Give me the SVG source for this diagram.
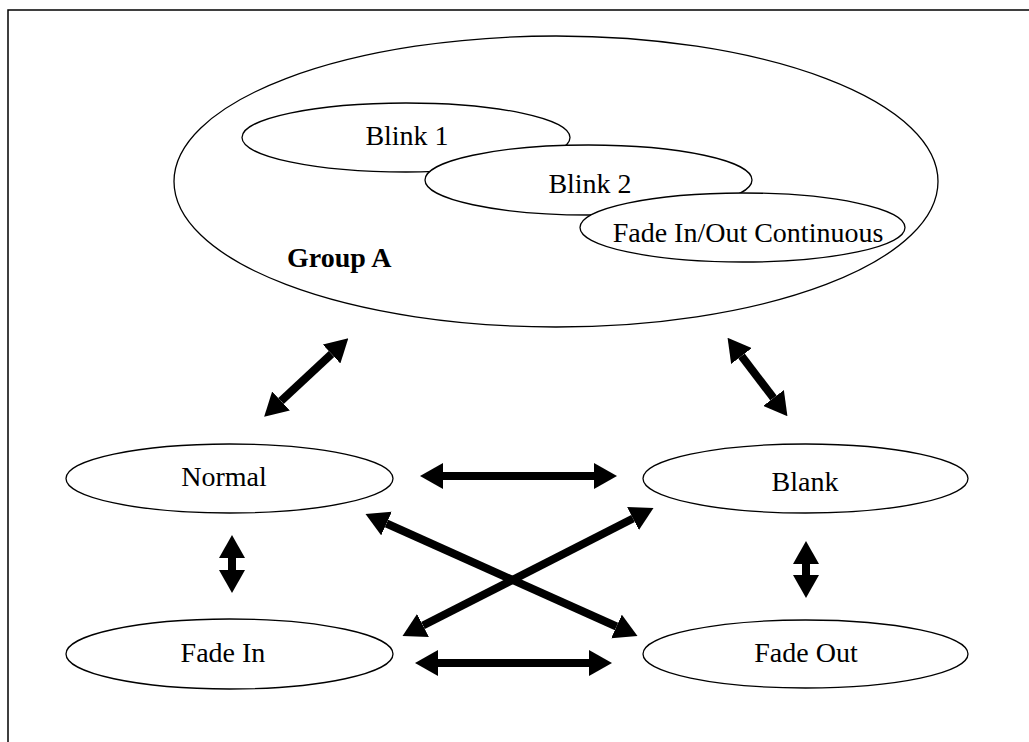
<svg xmlns="http://www.w3.org/2000/svg" width="1029" height="742" viewBox="0 0 1029 742">
<defs>
<style>
.ell{fill:#fff;stroke:#000;stroke-width:1.3}
.lbl{font-family:"Liberation Serif","Times New Roman",serif;font-size:28px;fill:#000;text-anchor:middle}
.bold{font-weight:bold;text-anchor:start}
.arr{stroke:#000;stroke-width:8;fill:none;marker-start:url(#ah);marker-end:url(#ah)}
</style>
<marker id="ah" viewBox="0 0 23 26" refX="0" refY="13" markerWidth="23" markerHeight="26" markerUnits="userSpaceOnUse" orient="auto-start-reverse">
<path d="M0,0 L23,13 L0,26 z" fill="#000"/>
</marker>
</defs>
<rect width="1029" height="742" fill="#fff"/>
<g id="frame">
<path d="M8,742 L8,10 L1029,10" fill="none" stroke="#000" stroke-width="1.5"/>
</g>
<g id="groupA">
<ellipse class="ell" cx="556" cy="181.5" rx="382" ry="145.5"/>
<text class="lbl bold" x="287" y="267">Group A</text>
</g>
<g id="blink1">
<ellipse class="ell" cx="406" cy="137.5" rx="164" ry="34.5"/>
<text class="lbl" x="407" y="145">Blink 1</text>
</g>
<g id="blink2">
<ellipse class="ell" cx="588.5" cy="180" rx="163.5" ry="35"/>
<text class="lbl" x="590" y="193">Blink 2</text>
</g>
<g id="fadeContinuous">
<ellipse class="ell" cx="742.5" cy="227.5" rx="162.5" ry="34.5"/>
<text class="lbl" x="748" y="242">Fade In/Out Continuous</text>
</g>
<g id="normal">
<ellipse class="ell" cx="229.5" cy="478.5" rx="163.5" ry="34.5"/>
<text class="lbl" x="224" y="486">Normal</text>
</g>
<g id="blank">
<ellipse class="ell" cx="805.5" cy="478.5" rx="162.5" ry="34.5"/>
<text class="lbl" x="805" y="491">Blank</text>
</g>
<g id="fadeIn">
<ellipse class="ell" cx="229.5" cy="654" rx="163.5" ry="35"/>
<text class="lbl" x="223" y="662">Fade In</text>
</g>
<g id="fadeOut">
<ellipse class="ell" cx="805.5" cy="654" rx="162.5" ry="34"/>
<text class="lbl" x="806" y="662">Fade Out</text>
</g>
<g id="connectors">
<line class="arr" x1="443" y1="476" x2="594" y2="476"/>
<line class="arr" x1="438" y1="663" x2="589" y2="663"/>
<line class="arr" x1="232" y1="558" x2="232" y2="570"/>
<line class="arr" x1="806" y1="564" x2="806" y2="575"/>
<line class="arr" x1="331.5" y1="354" x2="281" y2="401"/>
<line class="arr" x1="741.5" y1="356" x2="773.5" y2="398"/>
<line class="arr" x1="386.5" y1="523.5" x2="616.5" y2="626.5"/>
<line class="arr" x1="423" y1="625.5" x2="633" y2="518.5"/>
</g>
</svg>
